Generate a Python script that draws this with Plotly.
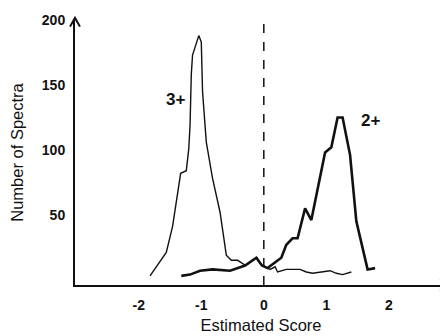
import plotly.graph_objects as go

# 3+ charge state distribution (thin line)
score_3 = [-1.82, -1.56, -1.46, -1.33, -1.24, -1.20, -1.18, -1.16, -1.14, -1.04,
           -1.00, -0.98, -0.92, -0.82, -0.70, -0.60, -0.52, -0.42, -0.29, -0.18,
           -0.11, -0.03, 0.10, 0.18, 0.22, 0.36, 0.58, 0.68, 0.78, 1.06, 1.16,
           1.26, 1.34, 1.40]
count_3 = [3, 21, 41, 82, 84, 101, 119, 158, 173, 188,
           183, 145, 106, 78, 52, 19, 15, 15, 11, 15,
           17, 11, 8, 10, 6, 8, 8, 6, 5, 7, 5,
           4, 5, 6]

# 2+ charge state distribution (thick line)
score_2 = [-1.32, -1.18, -1.02, -0.82, -0.54, -0.30, -0.12, -0.03, 0.06, 0.28,
           0.36, 0.46, 0.54, 0.66, 0.76, 0.84, 0.98, 1.08, 1.18, 1.26,
           1.38, 1.48, 1.66, 1.78]
count_2 = [3, 4, 7, 8, 7, 11, 17, 11, 9, 17,
           27, 32, 32, 55, 46, 65, 98, 102, 125, 125,
           96, 45, 8, 9]

x_tick_vals = [-2, -1, 0, 1, 2]
x_tick_text = ["-2", "-1", "0", "1", "2"]
y_tick_vals = [50, 100, 150, 200]
y_tick_text = ["50", "100", "150", "200"]

ink = "#111111"
fam = "Liberation Sans, Arial, sans-serif"

fig = go.Figure()
fig.add_trace(go.Scatter(x=score_3, y=count_3, mode="lines",
                         line=dict(color=ink, width=1.4), showlegend=False))
fig.add_trace(go.Scatter(x=score_2, y=count_2, mode="lines",
                         line=dict(color=ink, width=2.6), showlegend=False))

tick_font = dict(family=fam, size=14, color=ink, weight="bold")
title_font = dict(family=fam, size=16.5, color=ink)

# the page body has an 8px margin, so the figure is sized to fit the window
fig.update_layout(
    width=440, height=328,
    margin=dict(l=67, r=1, t=12, b=51),
    paper_bgcolor="white", plot_bgcolor="white",
    xaxis=dict(range=[-3.02, 2.93], tickvals=x_tick_vals, ticktext=x_tick_text,
               showgrid=False, zeroline=False, showline=True, linecolor=ink,
               linewidth=2, ticks="", tickfont=tick_font, ticklabelstandoff=6,
               automargin=False,
               title=dict(text="Estimated Score", font=title_font, standoff=8)),
    yaxis=dict(range=[-4, 200], tickvals=y_tick_vals, ticktext=y_tick_text,
               showgrid=False, zeroline=False, showline=True, linecolor=ink,
               linewidth=2, ticks="", tickfont=tick_font, ticklabelstandoff=5,
               automargin=False,
               title=dict(text="Number of Spectra", font=title_font, standoff=16)),
    font=dict(family=fam),
)

# dashed vertical line at zero
fig.add_shape(type="line", xref="x", yref="paper", x0=0, x1=0, y0=0, y1=0.99,
              line=dict(color=ink, width=1.5, dash="dash"))

# axis arrowheads (open chevrons)
fig.add_shape(type="path", xref="paper", yref="paper",
              path="M -0.0134 0.975 L 0 1.008 L 0.0134 0.975",
              line=dict(color=ink, width=2))
fig.add_shape(type="path", xref="paper", yref="paper",
              path="M 0.982 0.022 L 1.0 0 L 0.982 -0.022",
              line=dict(color=ink, width=2))

fig.add_annotation(x=-1.41, y=139, text="<b>3+</b>", showarrow=False,
                   font=dict(family=fam, size=17, color=ink))
fig.add_annotation(x=1.70, y=123, text="<b>2+</b>", showarrow=False,
                   font=dict(family=fam, size=17, color=ink))

fig.write_html("out.html")
